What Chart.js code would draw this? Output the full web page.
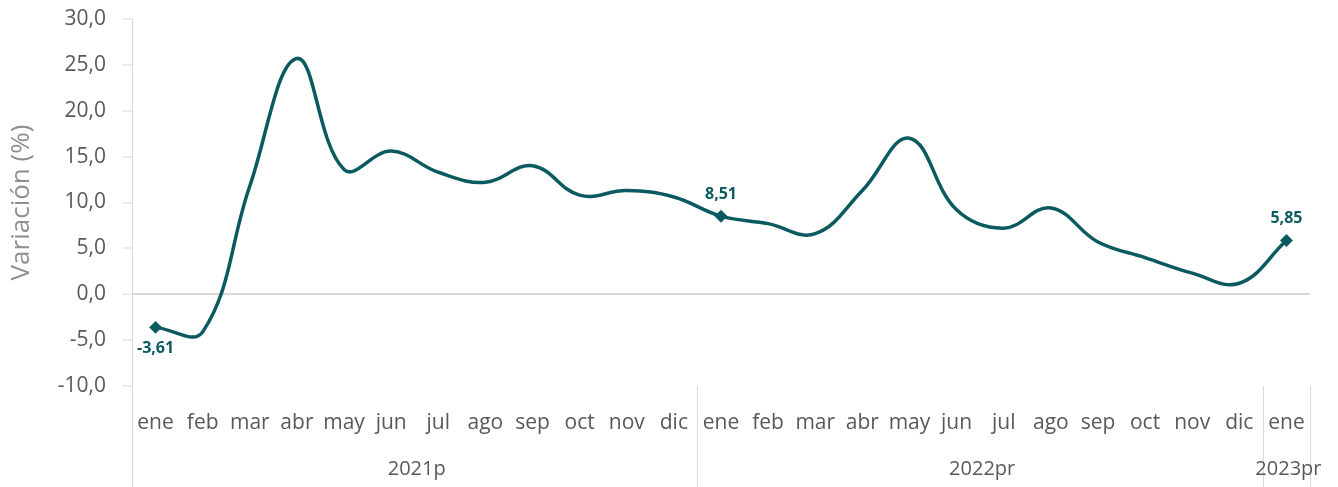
<!DOCTYPE html>
<html>
<head>
<meta charset="utf-8">
<script src="https://cdn.jsdelivr.net/npm/chart.js@4"></script>
<style>
  html, body { margin: 0; padding: 0; background: #fff; }
  #wrap { width: 1338px; height: 487px; }
</style>
</head>
<body>
<div id="wrap"><canvas id="lineChart" width="1338" height="487"></canvas></div>
<script>
// months shown on the category axis
const months = ['ene', 'feb', 'mar', 'abr', 'may', 'jun', 'jul', 'ago', 'sep', 'oct', 'nov', 'dic',
                'ene', 'feb', 'mar', 'abr', 'may', 'jun', 'jul', 'ago', 'sep', 'oct', 'nov', 'dic',
                'ene'];
// year groups: label, first index, last index
const years = ['2021p', '2022pr', '2023pr'];
const yearStart = [0, 12, 24];
const yearEnd = [11, 23, 24];

// annual variation (%)
const variation = [-3.61, -4.1, 11.8, 25.7, 13.6, 15.6, 13.3, 12.2, 14.0, 10.8, 11.3, 10.6,
                   8.51, 7.7, 6.6, 11.3, 17.0, 9.2, 7.2, 9.4, 5.7, 4.0, 2.3, 1.2,
                   5.85];
// points that carry a marker and value label
const labelled = [0, 12, 24];
const labelBelow = [true, false, false];

const yTicks = [-10, -5, 0, 5, 10, 15, 20, 25, 30];

const teal = '#0b5a60';
const gridGrey = '#d9d9d9';
const fontFamily = "'Open Sans', 'Noto Sans', sans-serif";

function fmt(v, d) {
  return v.toFixed(d).replace('.', ',');
}

// year labels and separators under the month labels
const yearAxis = {
  id: 'yearAxis',
  afterDraw(chart) {
    const ctx = chart.ctx;
    const x = chart.scales.x;
    const area = chart.chartArea;
    const half = (x.getPixelForValue(1) - x.getPixelForValue(0)) / 2;
    ctx.save();
    ctx.strokeStyle = gridGrey;
    ctx.lineWidth = 1;
    // y axis line runs down through the label area
    ctx.beginPath();
    ctx.moveTo(area.left + 0.5, area.bottom);
    ctx.lineTo(area.left + 0.5, chart.height);
    ctx.stroke();
    for (let i = 0; i < years.length; i++) {
      const edge = x.getPixelForValue(yearEnd[i]) + half;
      ctx.beginPath();
      ctx.moveTo(Math.round(edge) + 0.5, area.bottom);
      ctx.lineTo(Math.round(edge) + 0.5, chart.height);
      ctx.stroke();
      const cx = (x.getPixelForValue(yearStart[i]) + x.getPixelForValue(yearEnd[i])) / 2;
      ctx.fillStyle = '#595959';
      ctx.font = '20px ' + fontFamily;
      ctx.textAlign = 'center';
      ctx.textBaseline = 'middle';
      ctx.fillText(years[i], cx + 2, 469);
    }
    ctx.restore();
  }
};

// value labels on selected points
const valueLabels = {
  id: 'valueLabels',
  afterDatasetsDraw(chart) {
    const ctx = chart.ctx;
    const meta = chart.getDatasetMeta(0);
    ctx.save();
    ctx.fillStyle = teal;
    ctx.font = 'bold 16px ' + fontFamily;
    ctx.textAlign = 'center';
    ctx.textBaseline = 'middle';
    labelled.forEach((idx, k) => {
      const pt = meta.data[idx];
      const dy = labelBelow[k] ? 21 : -22;
      ctx.fillText(fmt(variation[idx], 2), pt.x, pt.y + dy);
    });
    ctx.restore();
  }
};

const ctx = document.getElementById('lineChart').getContext('2d');
new Chart(ctx, {
  type: 'line',
  data: {
    labels: months,
    datasets: [{
      data: variation,
      borderColor: teal,
      backgroundColor: teal,
      borderWidth: 3.5,
      tension: 0.4,
      pointStyle: 'rectRot',
      pointRadius: variation.map((v, i) => labelled.includes(i) ? 4 : 0),
      pointHoverRadius: 0,
      fill: false
    }]
  },
  options: {
    responsive: false,
    animation: false,
    layout: {
      padding: { top: 19, right: 28, left: 0, bottom: 0 }
    },
    plugins: {
      legend: { display: false },
      tooltip: { enabled: false }
    },
    scales: {
      x: {
        offset: true,
        grid: { display: false, drawTicks: false },
        border: { display: false },
        ticks: {
          color: '#595959',
          font: { size: 21, family: fontFamily },
          maxRotation: 0,
          autoSkip: false,
          padding: 24
        },
        afterFit(scale) { scale.height = 101; }
      },
      y: {
        min: -10,
        max: 30,
        afterBuildTicks(scale) { scale.ticks = yTicks.map(v => ({ value: v })); },
        grid: {
          color: c => c.tick && c.tick.value === 0 ? gridGrey : 'rgba(0,0,0,0)',
          lineWidth: 2,
          tickColor: gridGrey,
          tickLength: 10,
          tickWidth: 1
        },
        border: { color: gridGrey, width: 1 },
        ticks: {
          color: '#595959',
          font: { size: 21, family: fontFamily },
          padding: 16,
          callback: v => fmt(v, 1)
        },
        title: {
          display: true,
          text: 'Variación (%)',
          color: '#8f8f8f',
          font: { size: 26, family: fontFamily },
          padding: { top: 6, bottom: 0 }
        },
        afterFit(scale) {
          scale.width = 132;
          scale.paddingTop = 0;
          scale.paddingBottom = 0;
        }
      }
    }
  },
  plugins: [yearAxis, valueLabels]
});
</script>
</body>
</html>
